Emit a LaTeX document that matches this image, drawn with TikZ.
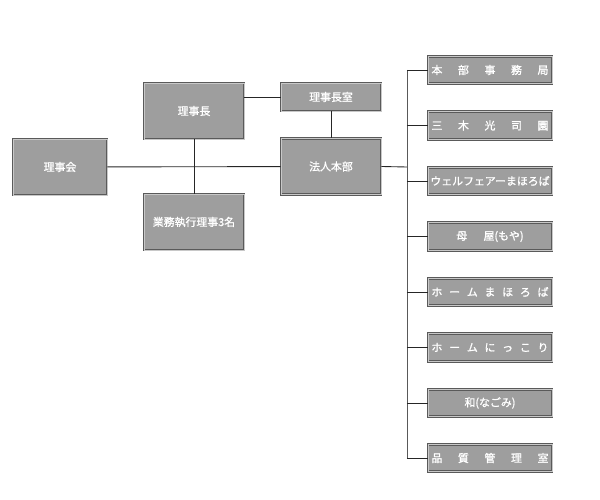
\documentclass[tikz,border=0pt]{standalone}
\usepackage{fontspec}
\setmainfont{Noto Sans CJK JP}[BoldFont={Noto Sans CJK JP}, BoldFeatures={FakeBold=1.2}]
\definecolor{boxgray}{HTML}{9E9E9E}
\definecolor{rimgray}{HTML}{5A5A5A}
\definecolor{litegray}{HTML}{C8C8C8}
\newcommand{\kintou}[1]{\makebox[2.34cm][s]{#1}}
\tikzset{
  soshiki/.style={draw=rimgray, line width=0.5pt, double=litegray, double distance=0.5pt,
    fill=boxgray, text=white, inner sep=0pt, font=\fontsize{6.2pt}{7pt}\selectfont\bfseries},
  bigbox/.style={soshiki, minimum width=2.0cm, minimum height=1.12cm},
  bukabox/.style={soshiki, minimum width=2.48cm, minimum height=0.55cm},
  sen/.style={black!85, line width=0.5pt},
}
\begin{document}
\begin{tikzpicture}[x=0.02cm, y=-0.02cm]
    \useasboundingbox (0,0) rectangle (600,500);
    \node [bigbox, minimum width=1.88cm] (rijikai) at (60,167) {理事会};
    \node [bigbox] (rijicho) at (194,111) {理事長};
    \node [bigbox] (gyomu) at (194,222) {業務執行理事3名};
    \node [bigbox, minimum height=0.56cm] (shitsu) at (331,97) {理事長室};
    \node [bigbox] (honbu) at (331,166.5) {法人本部};
    \node [bukabox] (jimukyoku) at (490,70) {\kintou{本\hfill 部\hfill 事\hfill 務\hfill 局}};
    \node [bukabox] (miki) at (490,125.5) {\kintou{三\hfill 木\hfill 光\hfill 司\hfill 園}};
    \node [bukabox] (welfare) at (490,181) {ウェルフェアーまほろば};
    \node [bukabox] (moya) at (490,236.5) {母\hspace{1.5em}屋(もや)};
    \node [bukabox] (mahoroba) at (490,292) {\kintou{ホ\hfill ー\hfill ム\hfill ま\hfill ほ\hfill ろ\hfill ば}};
    \node [bukabox] (nikkori) at (490,347.5) {\kintou{ホ\hfill ー\hfill ム\hfill に\hfill っ\hfill こ\hfill り}};
    \node [bukabox] (nagomi) at (490,403) {和(なごみ)};
    \node [bukabox] (hinshitsu) at (490,458) {\kintou{品\hfill 質\hfill 管\hfill 理\hfill 室}};
    \coordinate (spine) at (407,167);
    \draw [sen] (rijikai) -- (honbu);
    \draw [sen] (rijicho) -- (gyomu);
    \draw [sen] (rijicho.east |- shitsu.west) -- (shitsu.west);
    \draw [sen] (shitsu) -- (honbu);
    \draw [sen] (honbu.east) -- (spine);
    \draw [sen, black!65] (spine |- jimukyoku.west) -- (spine |- hinshitsu.west);
    \draw [sen] (spine |- jimukyoku.west) -- (jimukyoku.west);
    \draw [sen] (spine |- miki.west) -- (miki.west);
    \draw [sen] (spine |- welfare.west) -- (welfare.west);
    \draw [sen] (spine |- moya.west) -- (moya.west);
    \draw [sen] (spine |- mahoroba.west) -- (mahoroba.west);
    \draw [sen] (spine |- nikkori.west) -- (nikkori.west);
    \draw [sen] (spine |- nagomi.west) -- (nagomi.west);
    \draw [sen] (spine |- hinshitsu.west) -- (hinshitsu.west);
\end{tikzpicture}
\end{document}
